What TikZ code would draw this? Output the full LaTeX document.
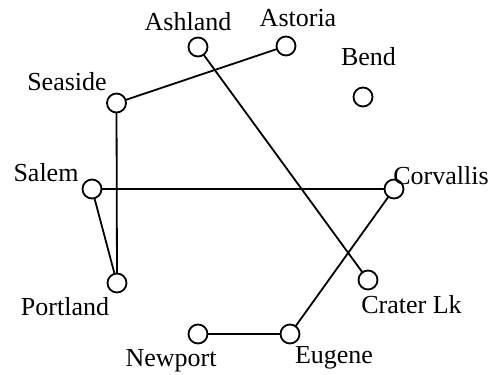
\documentclass[tikz,border=0pt]{standalone}
\usepackage{fontspec}
\setmainfont{Liberation Serif}
\begin{document}
\begin{tikzpicture}[x=1bp,y=-1bp,
  city/.style={circle,draw=black,fill=white,line width=1.8bp,minimum size=19bp,inner sep=0pt},
  lbl/.style={anchor=base,inner sep=0pt,font=\fontsize{26bp}{30bp}\selectfont},
  road/.style={line width=1.8bp,draw=black}]
\useasboundingbox (0,0) rectangle (492,374);
% roads first, circles drawn on top
\coordinate (cashland) at (198,47);
\coordinate (castoria) at (286,46);
\coordinate (cseaside) at (116.5,103);
\coordinate (cbend) at (363,97);
\coordinate (csalem) at (92,189);
\coordinate (ccorvallis) at (394,189);
\coordinate (cportland) at (117,283);
\coordinate (ccraterlk) at (368,280);
\coordinate (cnewport) at (198,334);
\coordinate (ceugene) at (290,334);
\draw[road] (cashland) -- (ccraterlk);
\draw[road] (cseaside) -- (castoria);
\draw[road] (cseaside) -- (cportland);
\draw[road] (csalem) -- (ccorvallis);
\draw[road] (csalem) -- (cportland);
\draw[road] (ccorvallis) -- (ceugene);
\draw[road] (cnewport) -- (ceugene);
% cities
\node[city] (ashland) at (cashland) {};
\node[city] (astoria) at (castoria) {};
\node[city] (seaside) at (cseaside) {};
\node[city] (bend) at (cbend) {};
\node[city] (salem) at (csalem) {};
\node[city] (corvallis) at (ccorvallis) {};
\node[city] (portland) at (cportland) {};
\node[city] (craterlk) at (ccraterlk) {};
\node[city] (newport) at (cnewport) {};
\node[city] (eugene) at (ceugene) {};
% labels
\node[lbl] (lashland) at (188,30.5) {Ashland};
\node[lbl] (lastoria) at (298,26) {Astoria};
\node[lbl] (lseaside) at (67,90.5) {Seaside};
\node[lbl] (lbend) at (368.5,65.5) {Bend};
\node[lbl] (lsalem) at (46,181.5) {Salem};
\node[lbl] (lcorvallis) at (441,184.5) {Corvallis};
\node[lbl] (lportland) at (65,315) {Portland};
\node[lbl] (lcraterlk) at (411.5,313.5) {Crater Lk};
\node[lbl] (lnewport) at (171,366.5) {Newport};
\node[lbl] (leugene) at (334,363.5) {Eugene};
\end{tikzpicture}
\end{document}
